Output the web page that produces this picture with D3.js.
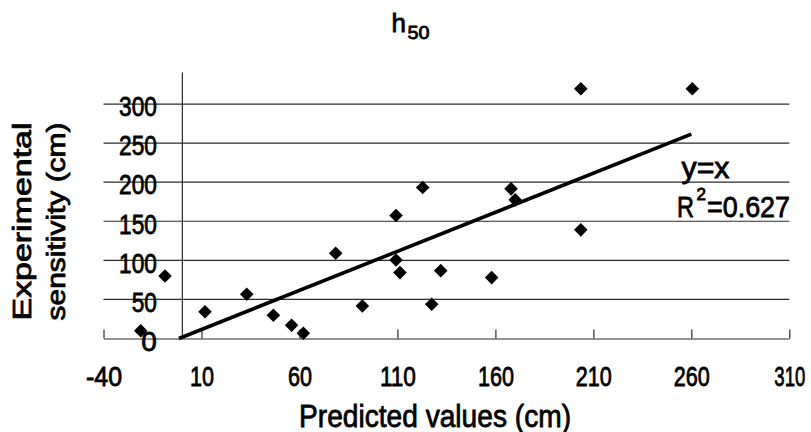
<!DOCTYPE html>
<html>
<head>
<meta charset="utf-8">
<script src="https://cdn.jsdelivr.net/npm/d3@7"></script>
<style>
  body { margin: 0; background: #fff; }
  svg { display: block; font-family: "Liberation Sans", Arial, sans-serif; }
  svg text { fill: #000; stroke: #000; stroke-width: 0.8px; }
</style>
</head>
<body>
<div id="chart"></div>
<script>
// predicted values (x) and experimental sensitivity (y), cm
const predicted = [-21, -8.6, 11.8, 33.1, 46.7, 56, 62, 78.5, 92.1, 109.3, 109.3, 111.3,
                   122.9, 127.5, 132.1, 158.1, 168, 170.1, 203.6, 203.6, 260.5];
const experimental = [10, 80, 34.3, 56.6, 29.7, 16.9, 6.7, 109.1, 41.6, 157.3, 100.5, 84.3,
                      193.2, 43.8, 86.8, 77.9, 191.5, 177.4, 319.6, 139, 319.6];

// the y=x line as drawn
const fitX = [-1.5, 260];
const fitY = [0, 261.5];

const xTicks = [-40, 10, 60, 110, 160, 210, 260, 310];
const yTicks = [0, 50, 100, 150, 200, 250, 300];

const width = 811, height = 432;

const svg = d3.select("#chart").append("svg")
    .attr("width", width)
    .attr("height", height);

const x = d3.scaleLinear().domain([-40, 310]).range([103.5, 789.3]);
const y = d3.scaleLinear().domain([0, 341]).range([338.5, 72]);

const gridColor = "#2a2a2a";

// horizontal gridlines
svg.append("g")
    .selectAll("line")
    .data(yTicks.filter(d => d > 0))
    .join("line")
    .attr("x1", x(-40)).attr("x2", x(310))
    .attr("y1", d => y(d)).attr("y2", d => y(d))
    .attr("stroke", gridColor)
    .attr("stroke-width", 1.2);

// x axis, ticks pointing up
const xAxis = svg.append("g")
    .attr("transform", `translate(0,${y(0)})`)
    .call(d3.axisBottom(x).tickValues(xTicks).tickSize(-9).tickSizeOuter(0).tickFormat(d => String(d)));
xAxis.select(".domain").attr("stroke", gridColor).attr("stroke-width", 1.2);
xAxis.selectAll(".tick line").attr("stroke", gridColor).attr("stroke-width", 1.2);
xAxis.selectAll(".tick text")
    .attr("y", 47).attr("dy", 0)
    .attr("font-size", 28)
    .attr("textLength", d => d === 310 ? 31 : String(d).length * 12)
    .attr("lengthAdjust", "spacingAndGlyphs");

// y axis crossing at x = 0
const yAxis = svg.append("g")
    .attr("transform", `translate(${x(0)},0)`)
    .call(d3.axisLeft(y).tickValues(yTicks).tickSize(0).tickPadding(25));
yAxis.select(".domain").attr("stroke", gridColor).attr("stroke-width", 1.2);
yAxis.selectAll(".tick text")
    .attr("dy", "0.42em")
    .attr("font-size", 28)
    .attr("textLength", d => d === 0 ? null : String(d).length * 12.6)
    .attr("lengthAdjust", "spacingAndGlyphs");

// fitted line
svg.append("path")
    .datum(d3.zip(fitX, fitY))
    .attr("d", d3.line().x(d => x(d[0])).y(d => y(d[1])))
    .attr("fill", "none")
    .attr("stroke", "#000")
    .attr("stroke-width", 3.6);

// points as diamonds
const diamond = "M0,-6.8L6.8,0L0,6.8L-6.8,0Z";
svg.append("g")
    .selectAll("path")
    .data(d3.zip(predicted, experimental))
    .join("path")
    .attr("d", diamond)
    .attr("transform", d => `translate(${x(d[0])},${y(d[1])})`)
    .attr("fill", "#000");

// title h50
const title = svg.append("g");
title.append("text")
    .attr("x", 391.5).attr("y", 31.7)
    .attr("font-size", 26)
    .text("h");
title.append("text")
    .attr("x", 407.5).attr("y", 39.3)
    .attr("font-size", 18)
    .attr("textLength", 22).attr("lengthAdjust", "spacingAndGlyphs")
    .text("50");

// axis titles
svg.append("text")
    .attr("x", 435).attr("y", 426.5)
    .attr("text-anchor", "middle")
    .attr("font-size", 32)
    .attr("textLength", 272).attr("lengthAdjust", "spacingAndGlyphs")
    .text("Predicted values (cm)");

[["Experimental", 30.5], ["sensitivity (cm)", 65]].forEach(([t, bx]) => {
    svg.append("text")
        .attr("transform", `translate(${bx},221.5) rotate(-90)`)
        .attr("text-anchor", "middle")
        .attr("font-size", 25.5)
        .attr("textLength", 198).attr("lengthAdjust", "spacingAndGlyphs")
        .text(t);
});

// annotation
svg.append("text")
    .attr("x", 681.5).attr("y", 178)
    .attr("font-size", 29)
    .attr("textLength", 48).attr("lengthAdjust", "spacingAndGlyphs")
    .text("y=x");
svg.append("text")
    .attr("x", 677).attr("y", 216.7)
    .attr("font-size", 30)
    .attr("textLength", 17).attr("lengthAdjust", "spacingAndGlyphs")
    .text("R");
svg.append("text")
    .attr("x", 696.5).attr("y", 200)
    .attr("font-size", 17)
    .text("2");
svg.append("text")
    .attr("x", 707).attr("y", 216.7)
    .attr("font-size", 30)
    .attr("textLength", 83).attr("lengthAdjust", "spacingAndGlyphs")
    .text("=0.627");
</script>
</body>
</html>
